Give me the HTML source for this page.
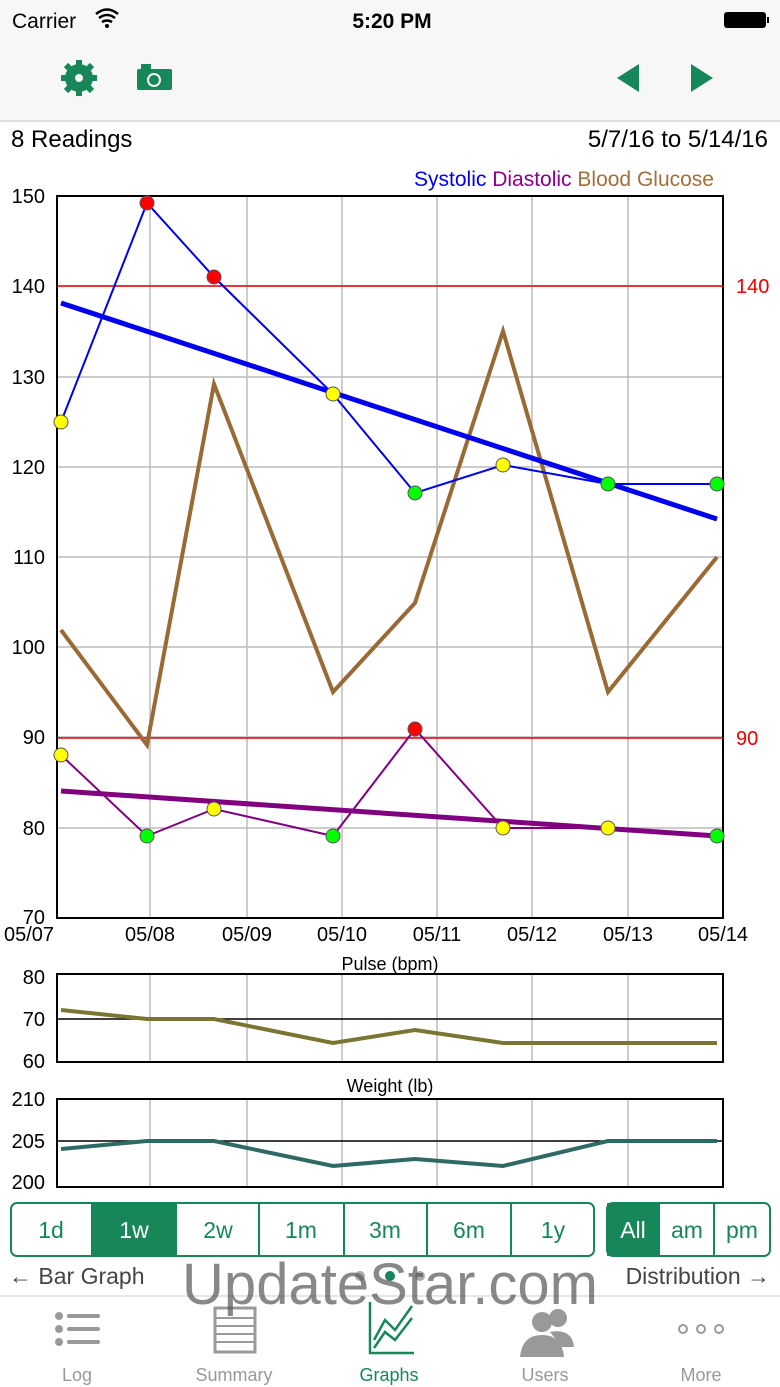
<!DOCTYPE html>
<html><head><meta charset="utf-8"><style>
body{margin:0;width:780px;height:1387px;overflow:hidden;background:#fff;font-family:"Liberation Sans",sans-serif}
svg{position:absolute;left:0;top:0}
</style></head><body>
<svg width="780" height="1387" viewBox="0 0 780 1387" font-family="Liberation Sans, sans-serif">
<rect x="0" y="0" width="780" height="120" fill="#f7f7f7"/>
<rect x="0" y="120" width="780" height="2" fill="#ddd"/>
<text x="12" y="28" font-size="21">Carrier</text>
<path d="M96 14 q11 -9 22 0 M99 18 q8 -6 16 0 M102 22 q5 -3 10 0" stroke="#000" stroke-width="2.5" fill="none"/>
<circle cx="107" cy="26" r="2" fill="#000"/>
<text x="392" y="28" font-size="21" text-anchor="middle" font-weight="bold">5:20 PM</text>
<rect x="724" y="12" width="42" height="16" rx="3" fill="#000"/>
<rect x="767" y="17" width="2" height="6" fill="#000"/>
<g fill="#17875a">
<circle cx="79" cy="78" r="14"/>
<g stroke="#17875a" stroke-width="6"><line x1="79" y1="60" x2="79" y2="96"/><line x1="61" y1="78" x2="97" y2="78"/><line x1="66" y1="65" x2="92" y2="91"/><line x1="92" y1="65" x2="66" y2="91"/></g>
<circle cx="79" cy="78" r="4" fill="#f7f7f7"/>
<rect x="137" y="69" width="35" height="21" rx="2"/><rect x="141" y="64" width="10" height="6"/>
<circle cx="154" cy="80" r="6" fill="none" stroke="#f7f7f7" stroke-width="2"/>
<polygon points="617,78 639,64 639,92"/><polygon points="691,64 713,78 691,92"/>
</g>
<text x="11" y="147" font-size="24">8 Readings</text>
<text x="768" y="147" font-size="24" text-anchor="end">5/7/16 to 5/14/16</text>
<text x="714" y="186" font-size="21" text-anchor="end"><tspan fill="#0000ee">Systolic </tspan><tspan fill="#8b008b">Diastolic </tspan><tspan fill="#a0703a">Blood Glucose</tspan></text>
<g stroke="#bbb" stroke-width="1.5">
<line x1="57" y1="286" x2="723" y2="286"/><line x1="57" y1="377" x2="723" y2="377"/><line x1="57" y1="467" x2="723" y2="467"/><line x1="57" y1="557" x2="723" y2="557"/><line x1="57" y1="647" x2="723" y2="647"/><line x1="57" y1="737" x2="723" y2="737"/><line x1="57" y1="828" x2="723" y2="828"/>
<line x1="150" y1="196" x2="150" y2="918"/><line x1="247" y1="196" x2="247" y2="918"/><line x1="342" y1="196" x2="342" y2="918"/><line x1="437" y1="196" x2="437" y2="918"/><line x1="532" y1="196" x2="532" y2="918"/><line x1="628" y1="196" x2="628" y2="918"/>
</g>
<rect x="57" y="196" width="666" height="722" fill="none" stroke="#000" stroke-width="2"/>
<line x1="57" y1="286" x2="723" y2="286" stroke="#e00" stroke-width="1.5"/>
<line x1="57" y1="738" x2="723" y2="738" stroke="#e00" stroke-width="1.5"/>
<g font-size="20" text-anchor="end">
<text x="45" y="203">150</text><text x="45" y="293">140</text><text x="45" y="384">130</text><text x="45" y="474">120</text><text x="45" y="564">110</text><text x="45" y="654">100</text><text x="45" y="744">90</text><text x="45" y="835">80</text><text x="45" y="924">70</text>
</g>
<text x="736" y="293" font-size="20" fill="#e00">140</text>
<text x="736" y="745" font-size="20" fill="#e00">90</text>
<g font-size="20" text-anchor="middle">
<text x="29" y="941">05/07</text><text x="150" y="941">05/08</text><text x="247" y="941">05/09</text><text x="342" y="941">05/10</text><text x="437" y="941">05/11</text><text x="532" y="941">05/12</text><text x="628" y="941">05/13</text><text x="723" y="941">05/14</text>
</g>
<polyline points="61,630 147,745 214,384 333,692 415,603 503,331 608,692 717,557" fill="none" stroke="#9a6a36" stroke-width="4"/>
<line x1="61" y1="303" x2="717" y2="519" stroke="#0000ee" stroke-width="5"/>
<polyline points="61,422 147,203 214,277 333,394 415,493 503,465 608,484 717,484" fill="none" stroke="#0000ee" stroke-width="2"/>
<line x1="61" y1="791" x2="717" y2="836" stroke="#800080" stroke-width="5"/>
<polyline points="61,755 147,836 214,809 333,836 415,729 503,828 608,828 717,836" fill="none" stroke="#800080" stroke-width="2"/>
<g stroke="#555" stroke-width="1">
<circle cx="61" cy="422" r="7" fill="#ff0"/><circle cx="147" cy="203" r="7" fill="#f00"/><circle cx="214" cy="277" r="7" fill="#f00"/><circle cx="333" cy="394" r="7" fill="#ff0"/><circle cx="415" cy="493" r="7" fill="#0f0"/><circle cx="503" cy="465" r="7" fill="#ff0"/><circle cx="608" cy="484" r="7" fill="#0f0"/><circle cx="717" cy="484" r="7" fill="#0f0"/>
<circle cx="61" cy="755" r="7" fill="#ff0"/><circle cx="147" cy="836" r="7" fill="#0f0"/><circle cx="214" cy="809" r="7" fill="#ff0"/><circle cx="333" cy="836" r="7" fill="#0f0"/><circle cx="415" cy="729" r="7" fill="#f00"/><circle cx="503" cy="828" r="7" fill="#ff0"/><circle cx="608" cy="828" r="7" fill="#ff0"/><circle cx="717" cy="836" r="7" fill="#0f0"/>
</g>
<text x="390" y="970" font-size="18" text-anchor="middle">Pulse (bpm)</text>
<g stroke="#bbb" stroke-width="1.5"><line x1="150" y1="974" x2="150" y2="1062"/><line x1="247" y1="974" x2="247" y2="1062"/><line x1="342" y1="974" x2="342" y2="1062"/><line x1="437" y1="974" x2="437" y2="1062"/><line x1="532" y1="974" x2="532" y2="1062"/><line x1="628" y1="974" x2="628" y2="1062"/></g>
<rect x="57" y="974" width="666" height="88" fill="none" stroke="#000" stroke-width="2"/>
<line x1="57" y1="1019" x2="723" y2="1019" stroke="#000" stroke-width="1.5"/>
<g font-size="20" text-anchor="end"><text x="45" y="984">80</text><text x="45" y="1026">70</text><text x="45" y="1068">60</text></g>
<polyline points="61,1010 147,1019 214,1019 333,1043 415,1030 503,1043 608,1043 717,1043" fill="none" stroke="#7a7530" stroke-width="4"/>
<text x="390" y="1092" font-size="18" text-anchor="middle">Weight (lb)</text>
<g stroke="#bbb" stroke-width="1.5"><line x1="150" y1="1099" x2="150" y2="1187"/><line x1="247" y1="1099" x2="247" y2="1187"/><line x1="342" y1="1099" x2="342" y2="1187"/><line x1="437" y1="1099" x2="437" y2="1187"/><line x1="532" y1="1099" x2="532" y2="1187"/><line x1="628" y1="1099" x2="628" y2="1187"/></g>
<rect x="57" y="1099" width="666" height="88" fill="none" stroke="#000" stroke-width="2"/>
<line x1="57" y1="1141" x2="723" y2="1141" stroke="#000" stroke-width="1.5"/>
<g font-size="20" text-anchor="end"><text x="45" y="1106">210</text><text x="45" y="1148">205</text><text x="45" y="1189">200</text></g>
<polyline points="61,1149 147,1141 214,1141 333,1166 415,1159 503,1166 608,1141 717,1141" fill="none" stroke="#2e6a63" stroke-width="4"/>
<rect x="91" y="1203" width="86" height="53" fill="#17875a"/>
<rect x="607" y="1203" width="53" height="53" fill="#17875a"/>
<rect x="11" y="1203" width="583" height="53" rx="6" fill="none" stroke="#17875a" stroke-width="2"/>
<rect x="607" y="1203" width="163" height="53" rx="6" fill="none" stroke="#17875a" stroke-width="2"/>
<g stroke="#17875a" stroke-width="2"><line x1="259" y1="1203" x2="259" y2="1256"/><line x1="344" y1="1203" x2="344" y2="1256"/><line x1="427" y1="1203" x2="427" y2="1256"/><line x1="511" y1="1203" x2="511" y2="1256"/><line x1="714" y1="1203" x2="714" y2="1256"/></g>
<g font-size="23" text-anchor="middle" fill="#17875a">
<text x="51" y="1238">1d</text><text x="134" y="1238" fill="#fff">1w</text><text x="218" y="1238">2w</text><text x="301" y="1238">1m</text><text x="385" y="1238">3m</text><text x="469" y="1238">6m</text><text x="553" y="1238">1y</text>
<text x="633" y="1238" fill="#fff">All</text><text x="687" y="1238">am</text><text x="742" y="1238">pm</text>
</g>
<text x="9" y="1284" font-size="23" fill="#444">← Bar Graph</text>
<text x="770" y="1284" font-size="23" fill="#444" text-anchor="end">Distribution →</text>
<circle cx="360" cy="1276" r="5" fill="#aaa"/><circle cx="390" cy="1276" r="5" fill="#17875a"/><circle cx="420" cy="1276" r="5" fill="#aaa"/>
<line x1="0" y1="1296" x2="780" y2="1296" stroke="#ccc" stroke-width="1"/>
<g fill="#999"><circle cx="59" cy="1316" r="4"/><circle cx="59" cy="1329" r="4"/><circle cx="59" cy="1342" r="4"/><rect x="67" y="1314" width="33" height="4" rx="2"/><rect x="67" y="1327" width="33" height="4" rx="2"/><rect x="67" y="1340" width="33" height="4" rx="2"/></g>
<rect x="215" y="1308" width="40" height="44" fill="none" stroke="#999" stroke-width="3"/>
<g stroke="#999" stroke-width="2"><line x1="215" y1="1318" x2="255" y2="1318"/><line x1="215" y1="1326" x2="255" y2="1326"/><line x1="215" y1="1334" x2="255" y2="1334"/><line x1="215" y1="1342" x2="255" y2="1342"/></g>
<g stroke="#17875a" stroke-width="2.5" fill="none"><polyline points="370,1302 370,1353 414,1353"/><polyline points="374,1340 385,1320 395,1330 412,1306"/><polyline points="374,1348 385,1332 395,1340 412,1318"/></g>
<g fill="#999"><circle cx="542" cy="1322" r="10"/><path d="M520 1357 q2 -22 22 -22 q20 0 22 22z"/><circle cx="558" cy="1318" r="9"/><path d="M550 1332 q22 -4 24 15 h-12z"/></g>
<g fill="none" stroke="#999" stroke-width="2"><circle cx="683" cy="1329" r="4"/><circle cx="701" cy="1329" r="4"/><circle cx="719" cy="1329" r="4"/></g>
<g font-size="18" text-anchor="middle" fill="#999"><text x="77" y="1381">Log</text><text x="234" y="1381">Summary</text><text x="389" y="1381" fill="#17875a">Graphs</text><text x="545" y="1381">Users</text><text x="701" y="1381">More</text></g>
<text x="390" y="1304" font-size="58" text-anchor="middle" fill="#555" fill-opacity="0.7">UpdateStar.com</text>
</svg>
</body></html>
